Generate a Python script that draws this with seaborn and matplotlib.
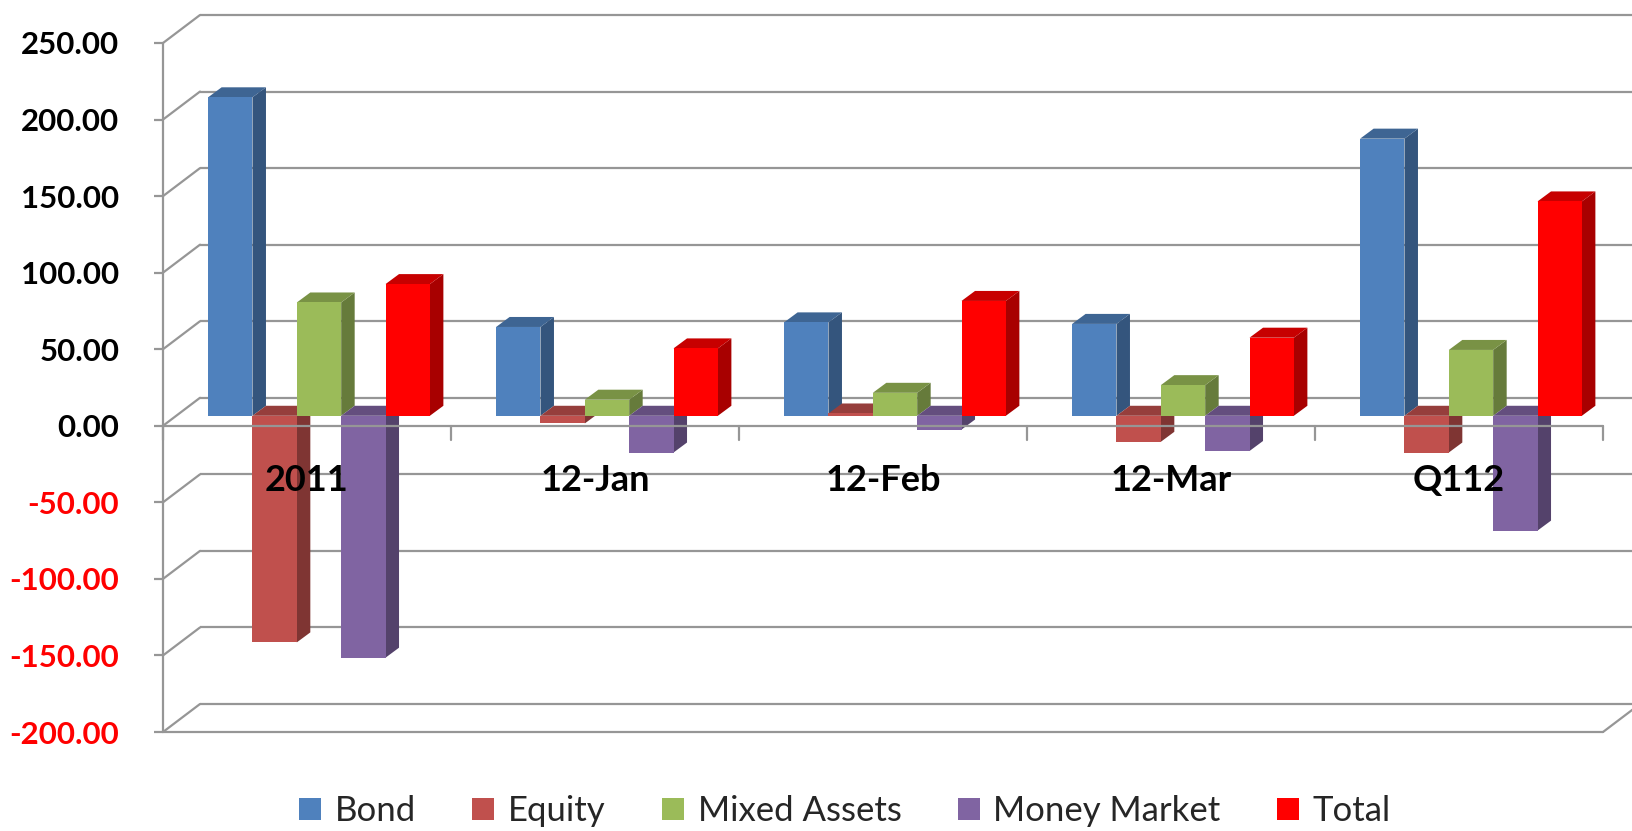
import numpy as np
import pandas as pd
import matplotlib.pyplot as plt
from matplotlib.patches import Polygon, Patch
import seaborn as sns

# -----------------------------
# Data
# -----------------------------
categories = ["2011", "12-Jan", "12-Feb", "12-Mar", "Q112"]
series = ["Bond", "Equity", "Mixed Assets", "Money Market", "Total"]
bond = [208, 58, 61, 60, 181]
equity = [-148, -5, 1.5, -17, -24]
mixed_assets = [74, 10.5, 15, 20, 43]
money_market = [-158, -24, -9, -23, -75]
total = [86, 44, 75, 51, 140]
yticks = [-200, -150, -100, -50, 0, 50, 100, 150, 200, 250]

colors = ["#4F81BD", "#C0504D", "#9BBB59", "#8064A2", "#FF0000"]

df = pd.DataFrame({
    "category": categories * 5,
    "series": np.repeat(series, len(categories)),
    "value": bond + equity + mixed_assets + money_market + total,
})

# -----------------------------
# Fake 3D geometry (data units)
# -----------------------------
X0, X1 = -0.5, 4.5
YMIN, YMAX = -200, 250
PX_X = 288.0          # pixels per category
PX_Y = 689.0 / 450    # pixels per value unit
DX, DY = 37 / PX_X, 28 / PX_Y      # wall depth
BX, BY = 12 / PX_X, 10 / PX_Y      # bar plane offset from front plane
FX, FY = 13.5 / PX_X, 10 / PX_Y    # bar depth
GRID = "#969696"
LW = 1.6


def shade(c, f):
    r, g, b = plt.matplotlib.colors.to_rgb(c)
    return (r * f, g * f, b * f)


sns.set_style("white")
plt.rcParams["font.family"] = ["Lato", "DejaVu Sans"]

fig = plt.figure(figsize=(16.32, 8.31), dpi=100)
ax = fig.add_axes([163 / 1632, 99 / 831, 1440 / 1632, 689 / 831])

sns.barplot(data=df, x="category", y="value", hue="series",
            order=categories, hue_order=series, palette=colors,
            width=0.77, gap=0, saturation=1, linewidth=0,
            legend=False, ax=ax)

# back wall and left wall gridlines
for v in yticks:
    ax.plot([X0 + DX, X1 + DX + 0.2], [v + DY, v + DY], color=GRID,
            lw=LW, zorder=1, clip_on=False, solid_capstyle="butt")
    ax.plot([X0, X0 + DX], [v, v + DY], color=GRID, lw=LW, zorder=1,
            clip_on=False)

# floor front edge
ax.plot([X0, X1], [YMIN, YMIN], color=GRID, lw=LW, zorder=1, clip_on=False)
ax.plot([X1, X1 + DX], [YMIN, YMIN + DY], color=GRID, lw=LW, zorder=1,
        clip_on=False)

# 3D faces for each bar
bars = sorted([p for p in ax.patches if p.get_width() > 0], key=lambda p: p.get_x())
for i, p in enumerate(bars):
    col = p.get_facecolor()
    x, w = p.get_x() + BX, p.get_width()
    y0, h = p.get_y(), p.get_height()
    p.set_x(x)
    p.set_y(y0 + BY)
    top = max(y0, y0 + h) + BY
    bot = min(y0, y0 + h) + BY
    xr = x + w
    z = 3 + i * 0.01
    side = Polygon([(xr, bot), (xr + FX, bot + FY), (xr + FX, top + FY), (xr, top)],
                   closed=True, facecolor=shade(col, 0.66), edgecolor="none", zorder=z)
    cap = Polygon([(x, top), (x + FX, top + FY), (xr + FX, top + FY), (xr, top)],
                  closed=True, facecolor=shade(col, 0.78), edgecolor="none", zorder=z)
    ax.add_patch(side)
    ax.add_patch(cap)
    p.set_zorder(z + 0.005)

# front axis lines
ax.plot([X0, X1], [0, 0], color=GRID, lw=LW, zorder=10, clip_on=False)
ax.plot([X0, X0], [YMIN, YMAX], color=GRID, lw=LW, zorder=10, clip_on=False)
for b in np.arange(X0, X1 + 0.01, 1.0):
    ax.plot([b, b], [0, -14 / PX_Y], color=GRID, lw=LW, zorder=10, clip_on=False)

# category labels
for i, cat in enumerate(categories):
    ax.text(i, -36, cat, ha="center", va="center", fontsize=26,
            fontweight="bold", color="black", zorder=20)

ax.set_xlim(X0, X1)
ax.set_ylim(YMIN, YMAX)
ax.set_xticks([])
ax.set_xlabel("")
ax.set_ylabel("")
ax.set_yticks(yticks)
ax.set_yticklabels([f"{v:.2f}" for v in yticks], fontsize=22.5, fontweight="bold")
for lab, v in zip(ax.get_yticklabels(), yticks):
    lab.set_color("red" if v < 0 else "black")
ax.tick_params(axis="y", length=6.5, width=LW, color=GRID, pad=25, left=True)
for s in ax.spines.values():
    s.set_visible(False)
ax.patch.set_alpha(0)

handles = [Patch(facecolor=c, edgecolor="none") for c in colors]
fig.legend(handles, series, loc="center", bbox_to_anchor=(845 / 1632, 1 - 811 / 831),
           ncol=5, frameon=False, fontsize=25, handlelength=0.62, handleheight=0.62,
           handletextpad=0.4, columnspacing=1.63)

fig.savefig("out.png", dpi=100)
plt.close()
